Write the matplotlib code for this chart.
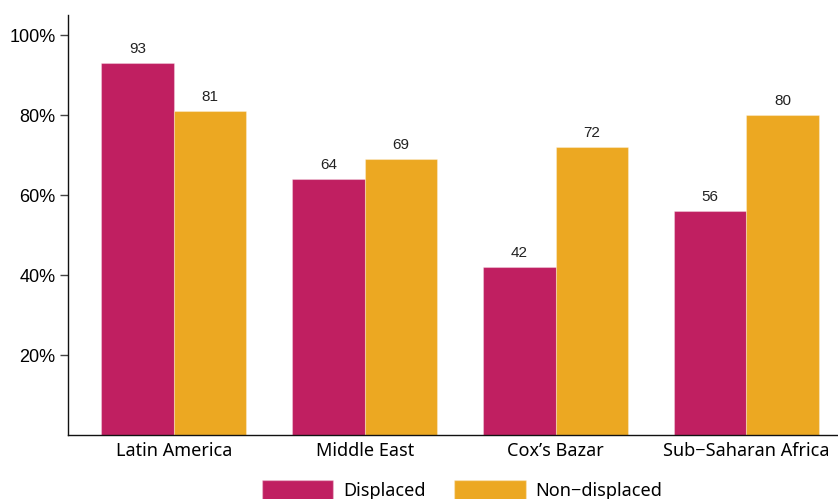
import matplotlib
matplotlib.use("Agg")
import matplotlib.pyplot as plt
import numpy as np
from matplotlib.patches import Patch

categories = ["Latin America", "Middle East", "Cox\u2019s Bazar", "Sub\u2212Saharan Africa"]
displaced = [93, 64, 42, 56]
non_displaced = [81, 69, 72, 80]
yticks = [20, 40, 60, 80, 100]
ytick_labels = ["20%", "40%", "60%", "80%", "100%"]

c_disp = "#C01F61"
c_non = "#ECA822"

fig = plt.figure(figsize=(8.38, 4.99), dpi=100)
ax = fig.add_axes([68/838, 64/499, 1 - 68/838, (435-15)/499])

x = np.arange(len(categories))
w = 0.38
b1 = ax.bar(x - w/2, displaced, w, color=c_disp, edgecolor=(1, 1, 1, 0.3), linewidth=0.8)
b2 = ax.bar(x + w/2, non_displaced, w, color=c_non, edgecolor=(1, 1, 1, 0.3), linewidth=0.8)

for rects, vals in ((b1, displaced), (b2, non_displaced)):
    for r, v in zip(rects, vals):
        ax.text(r.get_x() + r.get_width()/2, v + 1.8, str(v), ha="center", va="bottom",
                fontsize=11, family="Liberation Sans", color="#222222")

ax.set_xlim(-0.555, 3.48)
ax.set_ylim(0, 105)
ax.set_yticks(yticks)
ax.set_yticklabels(ytick_labels, family="Liberation Sans", fontsize=13)
ax.set_xticks(x)
ax.set_xticklabels(categories, family="Noto Sans", fontsize=13)
ax.tick_params(axis="x", length=0, pad=5)
ax.tick_params(axis="y", length=6, width=1, pad=3, color="#444444")
for s in ("top", "right"):
    ax.spines[s].set_visible(False)
for s in ("left", "bottom"):
    ax.spines[s].set_linewidth(1.0)
    ax.spines[s].set_color("#111111")

handles = [Patch(facecolor=c_disp, edgecolor=(1, 1, 1, 0.3)), Patch(facecolor=c_non, edgecolor=(1, 1, 1, 0.3))]
fig.legend(handles, ["Displaced", "Non\u2212displaced"], loc="center", bbox_to_anchor=(462/838, 1 - 490/499),
           ncol=2, frameon=False, handlelength=3.95, handleheight=1.4, handletextpad=0.55, columnspacing=1.6,
           prop={"family": "Noto Sans", "size": 13})

fig.savefig("out.png", dpi=100)
